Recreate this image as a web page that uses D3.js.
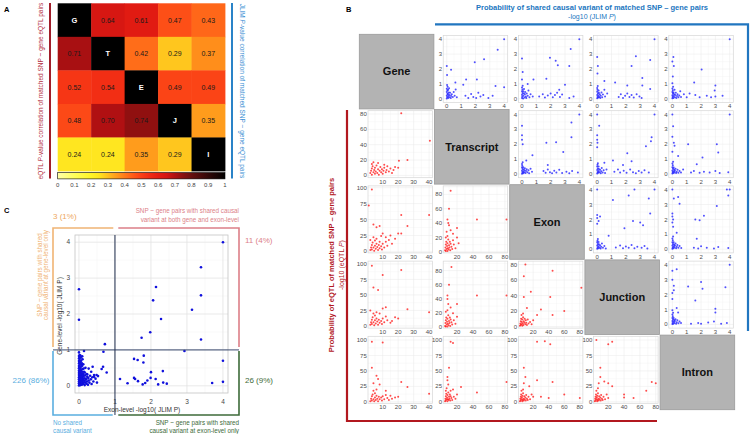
<!DOCTYPE html>
<html><head><meta charset="utf-8">
<script src="https://cdn.jsdelivr.net/npm/d3@7"></script>
<style>body{margin:0;background:#fff} svg{display:block}</style>
</head><body><svg id="c" width="750" height="434"></svg>
<script>
// ================= DATA =================
// Panel A – correlation heatmap
const heatDiag = ["G","T","E","J","I"];
const heatValues = [
  [1, 0.64, 0.61, 0.47, 0.43],
  [0.71, 1, 0.42, 0.29, 0.37],
  [0.52, 0.54, 1, 0.49, 0.49],
  [0.48, 0.70, 0.74, 1, 0.35],
  [0.24, 0.24, 0.35, 0.29, 1]
];
const colorbarTicks = [0,0.1,0.2,0.3,0.4,0.5,0.6,0.7,0.8,0.9,1];

// Panel C – gene-level vs exon-level -log10(JLIM P)
const cPoints = [
 [4,4],[3.39,3.3],[3.39,2.52],[3.14,2.12],[3.39,1.29],[2.14,2.75],[2.06,2.38],[2.28,1.86],[1.98,1.49],[1.74,1.34],
 [0,2.69],[0,1.84],[0.72,1.16],[0.68,0.95],[0.14,0.97],[2.93,0.97],[4,0.7],[4,0.11],[3.7,0.08],
 [1.8,0.84],[1.53,0.75],[1.63,0.72],[1.79,0.65],[2.0,0.38],[2.33,0.41],[1.99,0.22],[1.14,0.19],[1.35,0.07],
 [1.53,0.22],[1.56,0.19],[1.64,0.13],[1.77,0.04],[1.84,0.08],[1.9,0.15],[2.13,0.19],[2.2,0.04],[2.34,0.09],[2.44,0.06],
 [0.77,0.37],[0.67,0.53],[0.63,0.47],[0.49,0.3],[0.42,0.25],[0.38,0.53],[0.34,0.39],[0.27,0.48],[0.23,0.32],
 [0,0.01],[0.01,0.04],[0,0.07],[0.02,0.1],[0,0.12],[0.01,0.15],[0,0.18],[0.02,0.21],[0,0.24],[0.01,0.27],[0,0.3],
 [0.02,0.33],[0,0.36],[0.01,0.39],[0,0.42],[0.02,0.46],[0,0.49],[0.01,0.52],[0,0.55],[0.02,0.58],[0,0.62],[0.01,0.65],
 [0,0.69],[0.02,0.72],[0,0.76],[0.01,0.8],[0,0.83],[0.02,0.86],[0,0.93],
 [0.04,0.02],[0.05,0.06],[0.04,0.11],[0.06,0.14],[0.05,0.19],[0.04,0.23],[0.06,0.28],[0.05,0.32],[0.04,0.37],[0.06,0.41],
 [0.05,0.45],[0.04,0.5],[0.06,0.54],[0.05,0.6],[0.04,0.66],[0.06,0.7],[0.05,0.78],[0.04,0.84],
 [0.08,0.03],[0.09,0.08],[0.08,0.13],[0.1,0.17],[0.09,0.22],[0.08,0.26],[0.1,0.31],[0.09,0.35],[0.08,0.4],[0.1,0.47],
 [0.09,0.56],[0.08,0.63],[0.1,0.74],[0.09,0.82],
 [0.12,0.05],[0.13,0.1],[0.12,0.16],[0.14,0.21],[0.13,0.27],[0.12,0.33],[0.14,0.39],[0.13,0.48],[0.12,0.6],
 [0.16,0.02],[0.17,0.09],[0.16,0.14],[0.18,0.2],[0.17,0.29],[0.16,0.37],[0.18,0.5],
 [0.21,0.06],[0.22,0.12],[0.2,0.18],[0.23,0.25],[0.21,0.33],
 [0.25,0.03],[0.27,0.15],[0.26,0.22],[0.29,0.09],[0.31,0.28],[0.33,0.18],[0.35,0.05],[0.37,0.24],[0.4,0.12],
 [0.42,0.3],[0.46,0.2],[0.5,0.09],[0.53,0.27]
];
const cTicks = [0,1,2,3,4];
const cCounts = ["3 (1%)","11 (4%)","226 (86%)","26 (9%)"];

// Panel B – levels and pairwise scatter data
const bLevels = ["Gene","Transcript","Exon","Junction","Intron"];
const jlimTicks = [0,1,2,3,4];
const eqtlXTicks = [[10,20,30,40],[20,40,60,80],[20,40,60,80],[20,40,60,80]];
const eqtlXDomains = [[0.5,42.2],[2.7,83.5],[1,84],[1.5,83]];

// upper triangle: -log10(JLIM P) [column level, row level]
const jlim_Gene_Transcript = [[4,4],[3.55,3.3],[2.6,2.65],[1.95,2.45],[0,2.2],[0.3,1.95],[0.02,1.6],[1.35,1.3],[2.1,1.3],[1.15,0.95],[3.4,0.85],[4,0.78],[0.6,1.1],[0,0.02],[0.03,0.12],[0,0.22],[0.05,0.33],[0,0.45],[0.04,0.56],[0,0.68],[0.06,0.8],[0.02,0.92],[0.1,0.05],[0.12,0.18],[0.09,0.3],[0.14,0.42],[0.1,0.6],[0.18,0.1],[0.2,0.25],[0.23,0.4],[0.16,0.7],[0.28,0.05],[0.3,0.18],[0.35,0.3],[0.42,0.12],[0.48,0.45],[0.55,0.2],[0.62,0.62],[0.7,0.1],[1.3,0.2],[1.5,0.05],[1.7,0.32],[1.85,0.12],[2.05,0.05],[2.2,0.4],[2.35,0.15],[2.55,0.25],[2.9,0.05],[3.2,0.2]];
const jlim_Gene_Exon = [[4,4],[3.4,3.35],[0,2.7],[1.95,2.75],[2.35,2.55],[3.3,2.2],[2.5,2.25],[1.7,1.35],[0.8,1.3],[3.0,0.95],[2.6,0.6],[0.05,1.8],[0,1.3],[0.4,1.0],[0,0.05],[0.02,0.15],[0,0.27],[0.04,0.38],[0,0.5],[0.03,0.62],[0,0.75],[0.05,0.88],[0.08,0.02],[0.1,0.2],[0.12,0.35],[0.09,0.5],[0.14,0.66],[0.18,0.08],[0.2,0.3],[0.22,0.45],[0.27,0.15],[0.3,0.05],[0.33,0.35],[0.4,0.2],[0.45,0.55],[0.52,0.1],[0.6,0.3],[0.75,0.15],[1.2,0.15],[1.45,0.3],[1.6,0.08],[1.8,0.22],[2.0,0.35],[2.15,0.1],[2.3,0.25],[2.45,0.4],[2.65,0.12],[2.8,0.28],[3.3,0.05],[3.6,0.15]];
const jlim_Gene_Junction = [[4,4],[0,2.8],[2.7,2.85],[3.7,2.6],[2.4,2.2],[3.15,1.4],[3.15,0.9],[3.7,0.65],[1.25,1.1],[2.1,0.9],[0.05,2.2],[0.02,1.7],[0.5,1.2],[0,0.04],[0.03,0.14],[0,0.25],[0.05,0.36],[0,0.48],[0.02,0.6],[0,0.72],[0.04,0.85],[0.08,0.08],[0.1,0.22],[0.12,0.4],[0.1,0.55],[0.15,0.12],[0.18,0.3],[0.22,0.05],[0.25,0.2],[0.3,0.42],[0.35,0.1],[0.4,0.28],[0.5,0.6],[0.55,0.15],[0.7,0.35],[1.5,0.12],[1.65,0.3],[1.8,0.05],[1.95,0.2],[2.1,0.35],[2.25,0.12],[2.4,0.25],[2.55,0.08],[2.75,0.3],[2.95,0.15],[3.1,0.05]];
const jlim_Gene_Intron = [[4,4],[0.07,2.8],[0,2.5],[0.1,2.2],[0.03,1.5],[0,1.05],[2.04,1.96],[1.52,1.1],[3.0,0.9],[2.95,0.55],[3.5,0.2],[2.4,0.2],[1.9,0.1],[1.6,0.25],[1.2,0.35],[0,0.03],[0.02,0.13],[0,0.24],[0.04,0.35],[0,0.46],[0.03,0.57],[0,0.69],[0.05,0.8],[0.07,0.05],[0.1,0.18],[0.12,0.3],[0.08,0.42],[0.15,0.6],[0.18,0.1],[0.2,0.25],[0.24,0.4],[0.28,0.05],[0.32,0.18],[0.36,0.3],[0.42,0.1],[0.48,0.22],[0.55,0.5],[0.6,0.12],[0.8,0.3],[1.0,0.1],[2.7,0.1],[3.0,0.15]];
const jlim_Transcript_Exon = [[4,4],[3.45,3.46],[3.45,2.46],[0,3.24],[0,2.6],[0,2.3],[0.05,2.0],[1.7,2.1],[2.38,2.13],[2.88,1.47],[0.73,1.25],[1.8,0.6],[0.3,0.9],[0,0.02],[0.03,0.12],[0,0.22],[0.04,0.33],[0,0.44],[0.02,0.55],[0,0.67],[0.05,0.78],[0.08,0.05],[0.1,0.17],[0.12,0.3],[0.09,0.45],[0.15,0.1],[0.18,0.24],[0.2,0.38],[0.25,0.06],[0.28,0.2],[0.33,0.32],[0.38,0.12],[0.45,0.25],[0.5,0.05],[0.6,0.35],[0.7,0.15],[1.5,0.2],[1.65,0.08],[1.8,0.3],[1.95,0.12],[2.1,0.05],[2.25,0.22],[2.4,0.1],[2.6,0.28],[2.8,0.06],[3.1,0.15],[3.3,0.05],[3.5,0.2],[3.9,0.1]];
const jlim_Transcript_Junction = [[0,4],[4,4],[0.14,3.24],[0,2.6],[0,2.3],[0.02,2.1],[0,1.8],[3.8,2.46],[3.75,2.2],[3.4,1.86],[2.1,1.4],[1.1,0.9],[2.4,0.85],[1.8,0.6],[0.5,0.75],[0,0.04],[0.03,0.14],[0,0.26],[0.04,0.37],[0,0.5],[0.02,0.62],[0.05,0.72],[0.08,0.08],[0.1,0.2],[0.12,0.34],[0.1,0.5],[0.16,0.12],[0.2,0.28],[0.25,0.05],[0.28,0.18],[0.32,0.4],[0.38,0.1],[0.45,0.25],[0.55,0.06],[0.65,0.3],[1.2,0.15],[1.45,0.3],[1.6,0.1],[1.85,0.22],[2.05,0.08],[2.3,0.3],[2.5,0.12],[2.7,0.05],[2.9,0.2],[3.1,0.1],[3.3,0.25],[3.6,0.1]];
const jlim_Transcript_Intron = [[0,4],[4,4],[0.05,3.2],[0,2.5],[0.1,2.1],[0.15,1.9],[1.1,2.0],[3.1,2.0],[3.2,1.45],[2.1,1.1],[1.7,0.65],[0.4,1.2],[0,1.5],[0,0.03],[0.02,0.13],[0,0.24],[0.04,0.35],[0,0.46],[0.03,0.58],[0,0.7],[0.05,0.82],[0.07,0.06],[0.1,0.18],[0.12,0.3],[0.09,0.44],[0.15,0.1],[0.18,0.22],[0.22,0.35],[0.26,0.06],[0.3,0.15],[0.36,0.28],[0.42,0.08],[0.5,0.2],[0.6,0.1],[0.75,0.3],[1.3,0.1],[1.5,0.2],[1.9,0.08],[2.2,0.15],[2.6,0.1],[3.0,0.2],[3.3,0.06],[3.9,0.12]];
const jlim_Exon_Junction = [[0,4],[2.6,4],[4,4],[1.1,3.3],[2.2,3.6],[3.6,3.4],[3.7,2.4],[2.5,1.9],[3.0,1.8],[3.2,1.6],[1.9,1.4],[0,2.3],[0,2.1],[0.1,1.9],[0.2,2.2],[0,1.7],[0.8,0.9],[0,0.03],[0.03,0.13],[0,0.24],[0.04,0.35],[0,0.46],[0.02,0.57],[0.05,0.68],[0.08,0.07],[0.1,0.2],[0.12,0.33],[0.1,0.48],[0.16,0.1],[0.2,0.26],[0.24,0.05],[0.28,0.17],[0.33,0.38],[0.4,0.1],[0.5,0.22],[0.6,0.05],[1.3,0.12],[1.6,0.25],[1.8,0.06],[2.0,0.18],[2.2,0.1],[2.4,0.28],[2.6,0.06],[2.8,0.16],[3.1,0.1],[3.3,0.22],[3.5,0.05]];
const jlim_Exon_Intron = [[0,4],[3.8,4],[4,4],[0.4,3.5],[0.1,3.4],[0.5,3.05],[3.1,2.9],[3.9,3.6],[0,2.4],[0,2.2],[0.05,2.0],[0,1.8],[1.6,2.0],[2.2,2.25],[1.9,1.95],[0.05,1.5],[1.7,0.7],[0.3,1.1],[0,0.03],[0.02,0.13],[0,0.24],[0.04,0.35],[0,0.47],[0.03,0.6],[0,0.72],[0.05,0.85],[0.07,0.06],[0.1,0.19],[0.12,0.32],[0.09,0.46],[0.15,0.11],[0.18,0.24],[0.22,0.38],[0.26,0.06],[0.3,0.16],[0.35,0.28],[0.42,0.1],[0.5,0.22],[0.62,0.08],[1.5,0.1],[1.8,0.05],[2.0,0.2],[2.4,0.1],[2.9,0.05],[3.2,0.15],[3.9,0.08]];
const jlim_Junction_Intron = [[4,4],[0,3.6],[0.3,3.7],[0,3.0],[0.1,2.6],[0.1,2.3],[0,2.1],[0,1.7],[1.1,2.55],[2.0,2.85],[2.1,2.4],[3.7,2.5],[3.0,1.05],[3.0,0.8],[1.6,1.6],[0.3,1.1],[0.4,0.8],[0,0.03],[0.02,0.12],[0,0.22],[0.04,0.32],[0,0.43],[0.03,0.54],[0,0.66],[0.05,0.78],[0,0.95],[0.07,0.05],[0.1,0.17],[0.12,0.29],[0.09,0.42],[0.15,0.09],[0.18,0.22],[0.22,0.35],[0.26,0.05],[0.3,0.15],[0.35,0.27],[0.42,0.08],[0.5,0.2],[0.6,0.1],[1.3,0.05],[1.8,0.1],[2.0,0.05],[2.5,0.12],[2.9,0.2],[3.4,0.05],[3.8,0.1]];

// lower triangle: -log10(eQTL P) [column level, row level]
const eqtl_Transcript_Gene = [[22,81],[40.5,45],[20.5,19],[26,20],[20,10],[2,3],[2.5,6],[3,9],[3,1],[3.5,12],[4,4],[4.5,7],[5,2],[5,10],[5.5,5],[6,13],[6.5,3],[7,8],[7.5,1],[8,6],[8.5,11],[9,4],[9.5,8],[10,2],[10.5,6],[11,10],[12,4],[12.5,7],[13,12],[14,5],[15,9],[16,3],[3,15],[4,17],[7,16],[11,14],[17,7],[18,11]];
const eqtl_Exon_Gene = [[3,97],[1,72],[22,57],[40,57],[26,40],[20,28],[22,28],[15,25],[10,28],[12,22],[8,40],[4,42],[6,38],[2,2],[2.5,6],[3,10],[3,3],[3.5,14],[4,6],[4.5,1],[5,9],[5,17],[5.5,4],[6,12],[6.5,7],[7,2],[7.5,10],[8,5],[8,15],[9,8],[9.5,3],[10,12],[11,6],[12,15],[13,9],[14,18],[4,22],[6,20],[9,24],[2,18],[16,12],[18,20]];
const eqtl_Junction_Gene = [[3,97],[10,82],[22,90],[4,62],[7,58],[26,27],[40,22],[12,30],[10,28],[20,12],[15,5],[2,25],[8,20],[2,2],[2.5,6],[3,10],[3,3],[3.5,14],[4,6],[4.5,1],[5,9],[5,17],[5.5,4],[6,12],[6.5,7],[7,2],[7.5,10],[8,5],[9,8],[9.5,3],[10,12],[11,6],[12,15],[13,9],[4,20],[6,22],[16,8],[18,14]];
const eqtl_Intron_Gene = [[3,97],[10,96],[3,55],[6,42],[7,37],[22,32],[26,24],[40,13],[12,18],[15,10],[20,8],[4,30],[8,28],[2,1],[2.5,5],[3,9],[3,2],[3.5,12],[4,4],[4.5,1],[5,7],[5,14],[5.5,3],[6,10],[6.5,5],[7,1],[7.5,8],[8,4],[9,7],[9.5,2],[10,9],[11,4],[12,11],[13,6],[14,3],[16,5],[18,7],[4,18],[6,20]];
const eqtl_Exon_Transcript = [[12,85],[10,60],[8,45],[9,40],[45,45],[82,45],[20,33],[15,25],[10,37],[12,30],[7,28],[5,2],[5.5,6],[6,10],[6,1],[6.5,14],[7,4],[7.5,8],[8,1],[8,12],[8.5,5],[9,17],[9.5,3],[10,9],[10.5,6],[11,14],[11.5,2],[12,11],[13,7],[14,4],[15,16],[16,10],[18,5],[20,20],[6,20],[8,22],[22,12]];
const eqtl_Junction_Transcript = [[13,85],[10,60],[8,45],[8,40],[45,45],[82,45],[20,33],[15,20],[12,28],[9,33],[5,2],[5.5,6],[6,10],[6,1],[6.5,14],[7,4],[7.5,8],[8,1],[8,12],[8.5,5],[9,17],[9.5,3],[10,9],[10.5,6],[11,14],[11.5,2],[12,11],[13,7],[14,4],[16,10],[18,5],[6,22],[8,24],[20,15]];
const eqtl_Junction_Exon = [[10,80],[8,65],[45,72],[82,50],[17,45],[42,38],[60,20],[30,22],[25,15],[45,15],[8,38],[12,24],[20,8],[3,1],[3.5,4],[4,7],[4,2],[4.5,10],[5,3],[5.5,6],[6,1],[6,9],[6.5,4],[7,12],[7.5,2],[8,7],[8.5,5],[9,10],[10,3],[10.5,8],[11,5],[12,2],[13,9],[14,4],[16,6],[5,15],[7,17],[18,3]];
const eqtl_Intron_Transcript = [[12,97],[15,95],[10,55],[8,40],[8,35],[45,15],[82,32],[25,24],[15,20],[12,18],[9,28],[5,1],[5.5,5],[6,9],[6,2],[6.5,13],[7,4],[7.5,7],[8,1],[8,11],[8.5,4],[9,15],[9.5,3],[10,8],[10.5,5],[11,12],[11.5,2],[12,9],[13,6],[14,3],[16,8],[18,5],[20,12],[6,18],[7,22]];
const eqtl_Intron_Exon = [[25,97],[35,98],[42,93],[8,55],[10,40],[25,35],[45,32],[15,25],[60,12],[80,6],[20,8],[30,8],[8,30],[40,6],[3,1],[3.5,5],[4,8],[4,2],[4.5,12],[5,4],[5.5,7],[6,1],[6,10],[6.5,3],[7,14],[7.5,5],[8,2],[8.5,9],[9,4],[10,7],[10.5,2],[11,11],[12,5],[13,3],[14,8],[16,4],[18,12],[5,18],[7,20]];
const eqtl_Intron_Junction = [[5,100],[25,97],[20,93],[10,55],[10,40],[20,30],[15,33],[40,12],[40,7],[52,6],[68,18],[75,32],[80,30],[25,25],[8,30],[3,1],[3.5,5],[4,8],[4,2],[4.5,12],[5,4],[5.5,7],[6,1],[6,10],[6.5,3],[7,14],[7.5,5],[8,2],[8.5,9],[9,4],[10,7],[10.5,2],[11,11],[12,5],[13,3],[14,8],[16,4],[18,12],[5,18],[7,22],[20,6]];

// ================= LOOKUPS =================
const panelPoints = {
  "0_1": jlim_Gene_Transcript, "0_2": jlim_Gene_Exon, "0_3": jlim_Gene_Junction, "0_4": jlim_Gene_Intron,
  "1_2": jlim_Transcript_Exon, "1_3": jlim_Transcript_Junction, "1_4": jlim_Transcript_Intron,
  "2_3": jlim_Exon_Junction, "2_4": jlim_Exon_Intron, "3_4": jlim_Junction_Intron,
  "1_0": eqtl_Transcript_Gene, "2_0": eqtl_Exon_Gene, "3_0": eqtl_Junction_Gene, "4_0": eqtl_Intron_Gene,
  "2_1": eqtl_Exon_Transcript, "3_1": eqtl_Junction_Transcript, "4_1": eqtl_Intron_Transcript,
  "3_2": eqtl_Junction_Exon, "4_2": eqtl_Intron_Exon, "4_3": eqtl_Intron_Junction
};
const ticks80 = [0,20,40,60,80], ticks100 = [0,25,50,75,100];
const eqtlYAxis = {
  "1_0": [[-3,84.3], ticks80],
  "2_0": [[-2.4,102.8], ticks100], "2_1": [[-1.6,91.8], ticks80],
  "3_0": [[-3.5,104.5], ticks100], "3_1": [[-1.1,93.4], ticks80], "3_2": [[-2,84.5], ticks80],
  "4_0": [[-2.4,106], ticks100], "4_1": [[-2.4,106], ticks100], "4_2": [[-2.4,106], ticks100], "4_3": [[-2.4,106], ticks100]
};

// ================= DRAW =================
const FONT = '"Liberation Sans", Arial, Helvetica, sans-serif';
const svg = d3.select("#c").style("font-family", FONT);

// ---------- Panel A ----------
const heat = d3.scaleLinear()
  .domain([0, 0.1, 0.2, 0.25, 0.3, 0.35, 0.4, 0.45, 0.5, 0.55, 0.6, 0.65, 0.7, 0.75, 0.8, 0.9, 1])
  .range(["#ffffa8","#ffff5a","#fff426","#ffe31e","#ffbf1e","#ff9c1c","#ff7a1a","#ff5a18","#fa3e16","#f02a14","#e41c12","#d41612","#b01012","#881010","#661010","#300808","#000000"])
  .clamp(true);
const gA = svg.append("g");
gA.append("text").attr("x", 4).attr("y", 12).attr("font-size", 7.5).attr("font-weight", "bold").text("A");
const hx = d3.scaleBand().domain(d3.range(5)).range([57.7, 225]);
const hy = d3.scaleBand().domain(d3.range(5)).range([3.3, 171]);
heatValues.forEach((row, i) => row.forEach((v, j) => {
  const diag = i === j;
  gA.append("rect").attr("x", hx(j)).attr("y", hy(i))
    .attr("width", hx.bandwidth() + 0.4).attr("height", hy.bandwidth() + 0.4)
    .attr("fill", diag ? "#000" : heat(v));
  gA.append("text").attr("x", hx(j) + hx.bandwidth() / 2).attr("y", hy(i) + hy.bandwidth() / 2)
    .attr("dy", "0.35em").attr("text-anchor", "middle").attr("font-size", diag ? 7.5 : 7)
    .attr("font-weight", diag ? "bold" : "normal").attr("fill", diag ? "#fff" : "#1a1a1a")
    .text(diag ? heatDiag[i] : v.toFixed(2));
}));
const grad = svg.append("defs").append("linearGradient").attr("id", "cbgrad");
d3.range(0, 1.0001, 0.025).forEach(t => grad.append("stop").attr("offset", t).attr("stop-color", heat(t)));
const cb = d3.scaleLinear().domain([0, 1]).range([57.7, 225]);
gA.append("rect").attr("x", cb(0)).attr("y", 172.6).attr("width", cb(1) - cb(0)).attr("height", 6.3)
  .attr("fill", "url(#cbgrad)").attr("stroke", "#000").attr("stroke-width", 0.6);
colorbarTicks.forEach(t => {
  gA.append("text").attr("x", cb(t)).attr("y", 186.5).attr("text-anchor", "middle")
    .attr("font-size", 6).attr("fill", "#444").text(String(t));
});
gA.append("line").attr("x1", 50).attr("x2", 50).attr("y1", 3).attr("y2", 178.5)
  .attr("stroke", "#a11d2a").attr("stroke-width", 2);
const tA1 = gA.append("text").attr("transform", "translate(42.5,91) rotate(-90)").attr("text-anchor", "middle")
  .attr("font-size", 6.5).attr("fill", "#b3303f");
tA1.append("tspan").text("eQTL ");
tA1.append("tspan").attr("font-style", "italic").text("P");
tA1.append("tspan").text("-value correlation of matched SNP ~ gene eQTL pairs");
gA.append("line").attr("x1", 232).attr("x2", 232).attr("y1", 3).attr("y2", 178.5)
  .attr("stroke", "#2a83c8").attr("stroke-width", 2);
const tA2 = gA.append("text").attr("transform", "translate(239.5,91) rotate(90)").attr("text-anchor", "middle")
  .attr("font-size", 6.5).attr("fill", "#3b8fd4");
tA2.append("tspan").text("JLIM ");
tA2.append("tspan").attr("font-style", "italic").text("P");
tA2.append("tspan").text("-value correlation of matched SNP ~ gene eQTL pairs");

// ---------- Panel C ----------
const gC = svg.append("g");
gC.append("text").attr("x", 4).attr("y", 213).attr("font-size", 7.5).attr("font-weight", "bold").text("C");
const cx = d3.scaleLinear().domain([-0.11, 4.14]).range([75, 228]);
const cy = d3.scaleLinear().domain([-0.2, 4.2]).range([393, 235]);
gC.append("rect").attr("x", 75).attr("y", 235).attr("width", 153).attr("height", 158).attr("fill", "#fff");
[0.5, 1.5, 2.5, 3.5].forEach(v => {
  gC.append("line").attr("x1", cx(v)).attr("x2", cx(v)).attr("y1", 235).attr("y2", 393).attr("stroke", "#f2f2f2").attr("stroke-width", 0.5);
  gC.append("line").attr("y1", cy(v)).attr("y2", cy(v)).attr("x1", 75).attr("x2", 228).attr("stroke", "#f2f2f2").attr("stroke-width", 0.5);
});
cTicks.forEach(v => {
  gC.append("line").attr("x1", cx(v)).attr("x2", cx(v)).attr("y1", 235).attr("y2", 393).attr("stroke", "#e3e3e3").attr("stroke-width", 0.8);
  gC.append("line").attr("y1", cy(v)).attr("y2", cy(v)).attr("x1", 75).attr("x2", 228).attr("stroke", "#e3e3e3").attr("stroke-width", 0.8);
  gC.append("text").attr("x", cx(v)).attr("y", 404).attr("text-anchor", "middle").attr("font-size", 6.5).attr("fill", "#444").text(v);
  gC.append("text").attr("x", 70).attr("y", cy(v)).attr("dy", "0.35em").attr("text-anchor", "end").attr("font-size", 6.5).attr("fill", "#444").text(v);
});
gC.append("rect").attr("x", 75).attr("y", 235).attr("width", 153).attr("height", 158)
  .attr("fill", "none").attr("stroke", "#c4c4c4").attr("stroke-width", 0.8);
gC.selectAll("circle.cp").data(cPoints).enter().append("circle").attr("class", "cp")
  .attr("cx", d => cx(d[0])).attr("cy", d => cy(d[1])).attr("r", 1.3).attr("fill", "#1010dd");
// quadrant separators
gC.append("line").attr("x1", 53).attr("x2", 239).attr("y1", cy(1)).attr("y2", cy(1)).attr("stroke", "#3a4a6e").attr("stroke-width", 1);
gC.append("line").attr("x1", cx(1)).attr("x2", cx(1)).attr("y1", 235).attr("y2", 415).attr("stroke", "#22304f").attr("stroke-width", 1);
// axis titles
gC.append("text").attr("x", 142).attr("y", 412).attr("text-anchor", "middle").attr("font-size", 6.5).attr("fill", "#333")
  .text("Exon-level -log10( JLIM P)");
gC.append("text").attr("transform", "translate(62.3,316) rotate(-90)").attr("text-anchor", "middle").attr("font-size", 6.5).attr("fill", "#333")
  .text("Gene-level -log10( JLIM P)");
// brackets
const cOrange = "#f0b474", cPink = "#dc7f88", cBlue = "#5aaee0", cGreen = "#3e6b3a";
gC.append("path").attr("d", "M53,347V228H113.3").attr("fill", "none").attr("stroke", cOrange).attr("stroke-width", 1.6);
gC.append("path").attr("d", "M118.3,228H239V347").attr("fill", "none").attr("stroke", cPink).attr("stroke-width", 1.6);
gC.append("path").attr("d", "M53,351V415H112.7").attr("fill", "none").attr("stroke", cBlue).attr("stroke-width", 1.6);
gC.append("path").attr("d", "M118.3,415H239V351").attr("fill", "none").attr("stroke", cGreen).attr("stroke-width", 1.6);
gC.append("text").attr("x", 53).attr("y", 219).attr("font-size", 8).attr("fill", "#eea85e").text(cCounts[0]);
gC.append("text").attr("x", 245).attr("y", 243).attr("font-size", 8).attr("fill", cPink).text(cCounts[1]);
gC.append("text").attr("x", 49.5).attr("y", 382.5).attr("text-anchor", "end").attr("font-size", 8).attr("fill", cBlue).text(cCounts[2]);
gC.append("text").attr("x", 245).attr("y", 382.5).attr("font-size", 8).attr("fill", cGreen).text(cCounts[3]);
[["SNP ~ gene pairs with shared causal", 213], ["variant at both gene and exon-level", 221.5]].forEach(([s, y]) =>
  gC.append("text").attr("x", 239).attr("y", y).attr("text-anchor", "end").attr("font-size", 6.3).attr("fill", cPink).text(s));
[["No shared", 425], ["causal variant", 432.5]].forEach(([s, y]) =>
  gC.append("text").attr("x", 53).attr("y", y).attr("font-size", 6.3).attr("fill", cBlue).text(s));
[["SNP ~ gene pairs with shared", 425], ["causal variant at exon-level only", 432.5]].forEach(([s, y]) =>
  gC.append("text").attr("x", 239).attr("y", y).attr("text-anchor", "end").attr("font-size", 6.3).attr("fill", cGreen).text(s));
[["SNP ~ gene pairs with shared", 41.6], ["causal variant at gene-level only", 48.4]].forEach(([s, x]) =>
  gC.append("text").attr("transform", `translate(${x},275) rotate(-90)`).attr("text-anchor", "middle").attr("font-size", 6.3).attr("fill", cOrange).text(s));

// ---------- Panel B ----------
const gB = svg.append("g");
gB.append("text").attr("x", 346).attr("y", 12).attr("font-size", 7.5).attr("font-weight", "bold").text("B");
const cell = 75.2, gx0 = 359, gy0 = 34;
const blueC = "#2176c0", redC = "#b2181f";
gB.append("text").attr("x", 592).attr("y", 9.5).attr("text-anchor", "middle").attr("font-size", 7.5).attr("font-weight", "bold").attr("fill", blueC)
  .text("Probability of shared causal variant of matched SNP – gene pairs");
const tb2 = gB.append("text").attr("x", 592).attr("y", 18.5).attr("text-anchor", "middle").attr("font-size", 7).attr("fill", blueC);
tb2.append("tspan").text("-log10 (JLIM "); tb2.append("tspan").attr("font-style", "italic").text("P"); tb2.append("tspan").text(")");
gB.append("path").attr("d", "M435,24.3H748V331").attr("fill", "none").attr("stroke", blueC).attr("stroke-width", 2.2);
gB.append("path").attr("d", "M347,110V421H657").attr("fill", "none").attr("stroke", redC).attr("stroke-width", 2.2);
gB.append("text").attr("transform", "translate(334,265) rotate(-90)").attr("text-anchor", "middle").attr("font-size", 7.5).attr("font-weight", "bold").attr("fill", redC)
  .text("Probability of eQTL of matched SNP – gene pairs");
const tr2 = gB.append("text").attr("transform", "translate(343.5,265) rotate(-90)").attr("text-anchor", "middle").attr("font-size", 7).attr("fill", redC);
tr2.append("tspan").text("-log10 (eQTL "); tr2.append("tspan").attr("font-style", "italic").text("P"); tr2.append("tspan").text(")");

function drawPanel(x0, y0, xDom, yDom, xTicks, yTicks, pts, color) {
  const px0 = x0 + 9, px1 = x0 + 73.5, py0 = y0 + 1.5, py1 = y0 + 68.5;
  const sx = d3.scaleLinear().domain(xDom).range([px0, px1]);
  const sy = d3.scaleLinear().domain(yDom).range([py1, py0]);
  const g = gB.append("g");
  g.append("rect").attr("x", px0).attr("y", py0).attr("width", px1 - px0).attr("height", py1 - py0).attr("fill", "#fff");
  const minor = ts => { const m = []; for (let k = 0; k < ts.length - 1; k++) m.push((ts[k] + ts[k + 1]) / 2); const st = ts[1] - ts[0]; m.push(ts[0] - st / 2, ts[ts.length - 1] + st / 2); return m; };
  minor(xTicks).filter(v => v > xDom[0] && v < xDom[1]).forEach(v =>
    g.append("line").attr("x1", sx(v)).attr("x2", sx(v)).attr("y1", py0).attr("y2", py1).attr("stroke", "#f3f3f3").attr("stroke-width", 0.4));
  minor(yTicks).filter(v => v > yDom[0] && v < yDom[1]).forEach(v =>
    g.append("line").attr("y1", sy(v)).attr("y2", sy(v)).attr("x1", px0).attr("x2", px1).attr("stroke", "#f3f3f3").attr("stroke-width", 0.4));
  xTicks.forEach(v => {
    g.append("line").attr("x1", sx(v)).attr("x2", sx(v)).attr("y1", py0).attr("y2", py1).attr("stroke", "#e8e8e8").attr("stroke-width", 0.5);
    g.append("text").attr("x", sx(v)).attr("y", y0 + 74.3).attr("text-anchor", "middle").attr("font-size", 6).attr("fill", "#4d4d4d").text(v);
  });
  yTicks.forEach(v => {
    g.append("line").attr("y1", sy(v)).attr("y2", sy(v)).attr("x1", px0).attr("x2", px1).attr("stroke", "#e8e8e8").attr("stroke-width", 0.5);
    g.append("text").attr("x", x0 + 7.8).attr("y", sy(v)).attr("dy", "0.35em").attr("text-anchor", "end").attr("font-size", 6).attr("fill", "#4d4d4d").text(v);
  });
  g.append("rect").attr("x", px0).attr("y", py0).attr("width", px1 - px0).attr("height", py1 - py0)
    .attr("fill", "none").attr("stroke", "#d6d6d6").attr("stroke-width", 0.7);
  g.selectAll("circle").data(pts).enter().append("circle")
    .attr("cx", d => sx(d[0])).attr("cy", d => sy(d[1])).attr("r", 1.0)
    .attr("fill", color).attr("fill-opacity", 0.75);
}

bLevels.forEach((rowName, i) => bLevels.forEach((colName, j) => {
  const x0 = gx0 + j * cell, y0 = gy0 + i * cell;
  if (i === j) {
    gB.append("rect").attr("x", x0 + 0.3).attr("y", y0 + 0.3).attr("width", cell - 0.6).attr("height", cell - 0.6)
      .attr("fill", "#b3b3b3").attr("stroke", "#9a9a9a").attr("stroke-width", 0.8);
    gB.append("text").attr("x", x0 + cell / 2).attr("y", y0 + cell / 2).attr("dy", "0.35em").attr("text-anchor", "middle")
      .attr("font-size", 11).attr("font-weight", "bold").attr("fill", "#111").text(rowName);
  } else if (j > i) {
    drawPanel(x0, y0, [-0.25, 4.25], [-0.25, 4.25], jlimTicks, jlimTicks, panelPoints[i + "_" + j], "#1515ff");
  } else {
    const ya = eqtlYAxis[i + "_" + j];
    drawPanel(x0, y0, eqtlXDomains[j], ya[0], eqtlXTicks[j], ya[1], panelPoints[i + "_" + j], "#ff1010");
  }
}));
</script>
</body></html>
